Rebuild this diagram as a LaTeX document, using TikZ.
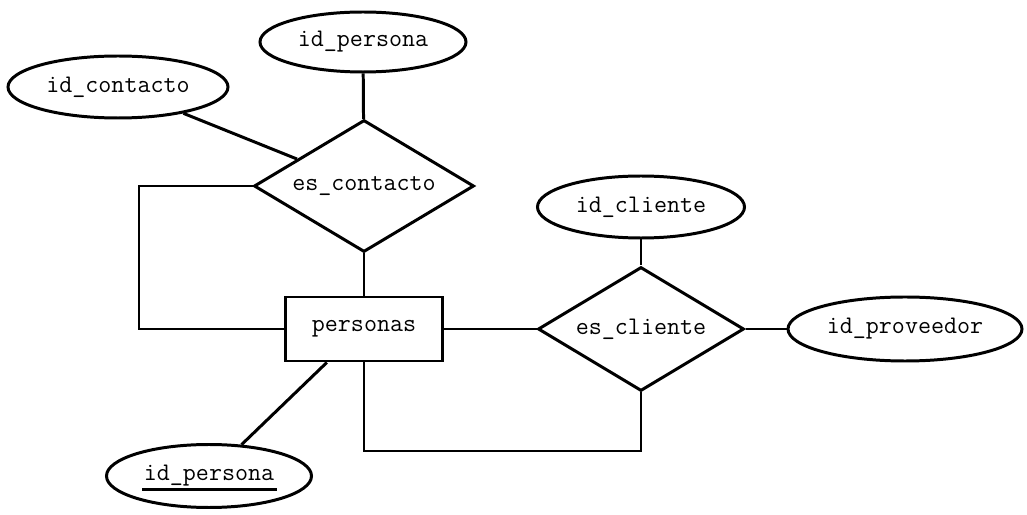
\documentclass[tikz,border=0pt]{standalone}
\usepackage{fontspec}
\usepackage{tikz}
\usetikzlibrary{positioning,calc,shapes.geometric}
\tikzset{
  attr/.style={ellipse,draw=black,line width=1.7pt,fill=white,inner sep=0pt},
  rel/.style={diamond,draw=black,line width=1.7pt,fill=white,inner sep=0pt,aspect=1.66},
  ent/.style={rectangle,draw=black,line width=1.7pt,fill=white,inner sep=0pt,
    minimum width=3.14cm,minimum height=1.28cm},
  link/.style={draw=black,line width=1.7pt},
}

\begin{document}
\begin{tikzpicture}[font=\ttfamily\fontsize{14.4}{17}\selectfont]
\useasboundingbox (0,0) rectangle (20.54,10.3);
% entity and relations
\node[ent] (personas) at (7.28,3.72) {personas};
\node[rel,minimum width=4.4cm,minimum height=2.64cm] (escontacto) at (7.28,6.58) {es\_contacto};
\node[rel,minimum width=4.12cm,minimum height=2.48cm] (escliente) at (12.82,3.72) {es\_cliente};
% attributes
\node[attr,minimum width=4.12cm,minimum height=1.2cm] (idpersona) at (7.26,9.46) {id\_persona};
\node[attr,minimum width=4.4cm,minimum height=1.24cm] (idcontacto) at (2.36,8.56) {id\_contacto};
\node[attr,minimum width=4.14cm,minimum height=1.24cm] (idcliente) at (12.82,6.16) {id\_cliente};
\node[attr,minimum width=4.68cm,minimum height=1.28cm] (idproveedor) at (18.1,3.72) {id\_proveedor};
\node[attr,minimum width=4.1cm,minimum height=1.26cm] (idpersonak) at (4.18,0.78) {id\_persona};
\draw[line width=1.9pt] ($(idpersonak.center)+(-1.34,-0.27)$) -- ++(2.7,0);
% corners of the recursive links
\coordinate (c1) at (2.78,6.58);
\coordinate (c2) at (2.78,3.72);
\coordinate (c3) at (12.82,1.28);
\coordinate (c4) at (7.28,1.28);
% connectors
\draw[link] (idpersona) -- (escontacto);
\draw[link] (idcontacto) -- (escontacto);
\draw[link] (escontacto.west) -- (c1) -- (c2) -- (personas.west);
\draw[link] (escontacto) -- (personas);
\draw[link] (personas) -- (escliente);
\draw[link] (escliente) -- (idproveedor);
\draw[link] (idcliente) -- (escliente);
\draw[link] (escliente.south) -- (c3) -- (c4) -- (personas.south);
\draw[link] (personas.-138) -- (idpersonak);
\end{tikzpicture}
\end{document}
